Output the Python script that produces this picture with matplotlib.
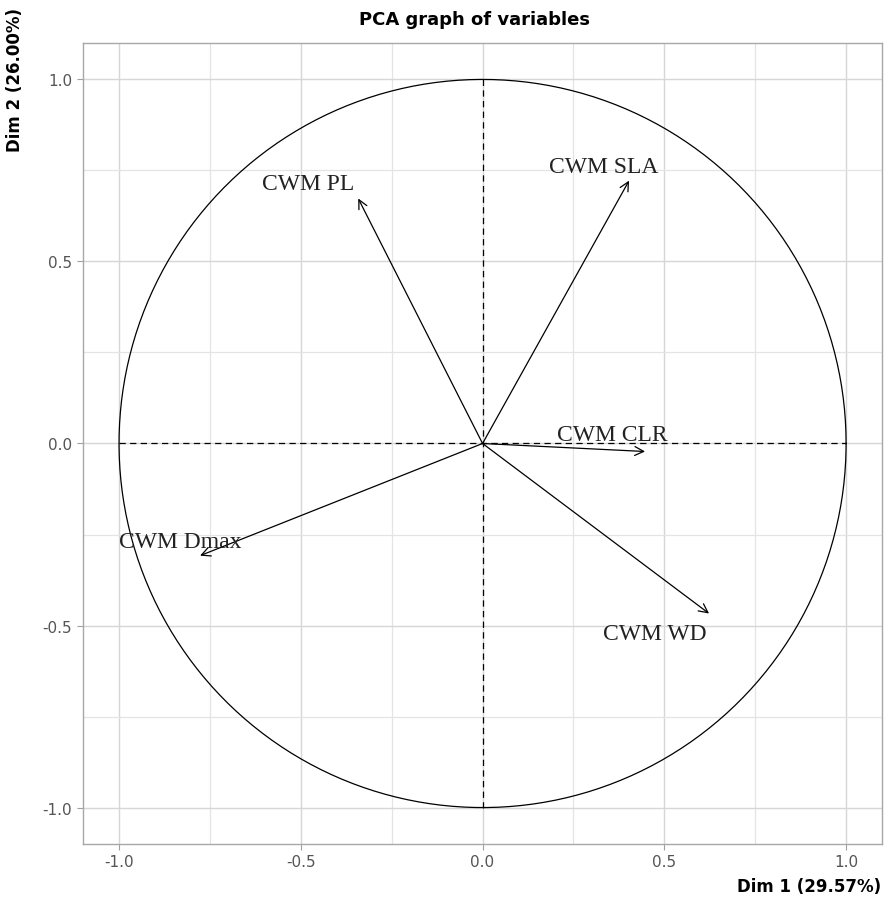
import numpy as np
import matplotlib.pyplot as plt

# coordonnées des variables (corrélations avec Dim 1 / Dim 2)
variables = ['CWM PL', 'CWM SLA', 'CWM CLR', 'CWM WD', 'CWM Dmax']
dim1 = [-0.342, 0.403, 0.447, 0.623, -0.777]
dim2 = [0.673, 0.722, -0.022, -0.467, -0.308]
# positions des étiquettes
lab_x = [-0.48, 0.332, 0.356, 0.475, -0.832]
lab_y = [0.714, 0.761, 0.025, -0.522, -0.269]

fig = plt.figure(figsize=(8.86, 9.04), dpi=100)
ax = fig.add_axes([0.0933, 0.0653, 0.9027, 0.886])

ax.set_xlim(-1.1, 1.1)
ax.set_ylim(-1.1, 1.1)

# grille
ax.set_xticks([-1.0, -0.5, 0.0, 0.5, 1.0])
ax.set_yticks([-1.0, -0.5, 0.0, 0.5, 1.0])
ax.set_xticks([-0.75, -0.25, 0.25, 0.75], minor=True)
ax.set_yticks([-0.75, -0.25, 0.25, 0.75], minor=True)
ax.grid(True, which='major', color='#d6d6d6', lw=1.0)
ax.grid(True, which='minor', color='#e4e4e4', lw=0.9)
ax.set_axisbelow(True)
ax.tick_params(which='major', length=4, color='#a0a0a0', labelcolor='#555555', labelsize=11)
ax.tick_params(which='minor', length=0)
ax.set_xticklabels(['-1.0', '-0.5', '0.0', '0.5', '1.0'])
ax.set_yticklabels(['-1.0', '-0.5', '0.0', '0.5', '1.0'])
for s in ax.spines.values():
    s.set_color('#a8a8a8')
    s.set_linewidth(1.0)

# cercle des corrélations
t = np.linspace(0, 2 * np.pi, 400)
ax.plot(np.cos(t), np.sin(t), color='black', lw=0.9)
ax.plot([-1, 1], [0, 0], color='black', lw=0.9, linestyle=(0, (5, 3.5)))
ax.plot([0, 0], [-1, 1], color='black', lw=0.9, linestyle=(0, (5, 3.5)))

# flèches
for i in range(len(variables)):
    ax.annotate('', xy=(dim1[i], dim2[i]), xytext=(0, 0),
                arrowprops=dict(arrowstyle='->', color='black', lw=0.9,
                                mutation_scale=16, shrinkA=0, shrinkB=0))
    ax.text(lab_x[i], lab_y[i], variables[i], ha='center', va='center',
            fontsize=17, family='Liberation Serif', color='#222222')

fig.text(0.536, 0.978, 'PCA graph of variables', ha='center', va='center',
         fontsize=13, fontweight='bold')
fig.text(0.017, 0.912, 'Dim 2 (26.00%)', ha='center', va='center', rotation=90,
         fontsize=12, fontweight='bold')
fig.text(0.995, 0.019, 'Dim 1 (29.57%)', ha='right', va='center',
         fontsize=12, fontweight='bold')

fig.savefig('out.png', dpi=100)
